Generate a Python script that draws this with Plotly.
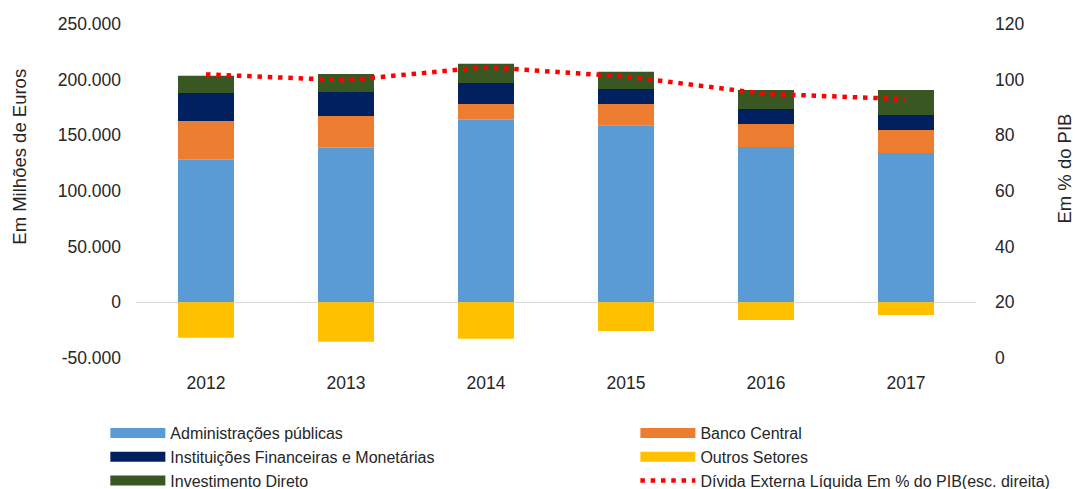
import plotly.graph_objects as go

# Data
anos = ["2012", "2013", "2014", "2015", "2016", "2017"]
admin_publicas = [128100, 138900, 164100, 159000, 139500, 134100]
banco_central = [34800, 28500, 14100, 19200, 20700, 20700]
inst_financeiras = [25200, 21600, 18900, 13500, 13500, 13500]
invest_direto = [15500, 16200, 17100, 15300, 17100, 22500]
outros_setores = [-31800, -35400, -32700, -25800, -15900, -11400]
divida_pib = [101.9, 99.8, 104.5, 101.1, 94.9, 93.0]

left_ticks = [-50000, 0, 50000, 100000, 150000, 200000, 250000]
left_labels = ["-50.000", "0", "50.000", "100.000", "150.000", "200.000", "250.000"]
right_ticks = [0, 20, 40, 60, 80, 100, 120]

font_family = "Liberation Sans"
txt = "#262626"

fig = go.Figure()

bars = [
    ("Administrações públicas", admin_publicas, "#5B9BD5", "legend"),
    ("Banco Central", banco_central, "#ED7D31", "legend2"),
    ("Instituições Financeiras e Monetárias", inst_financeiras, "#002060", "legend"),
    ("Outros Setores", outros_setores, "#FFC000", "legend2"),
    ("Investimento Direto", invest_direto, "#385723", "legend"),
]

for name, vals, color, leg in bars:
    fig.add_trace(go.Bar(
        x=anos, y=vals, name=name, marker_color=color,
        marker_line_width=0, showlegend=False, legendgroup=name,
    ))

fig.add_trace(go.Scatter(
    x=anos, y=divida_pib, yaxis="y2", mode="lines",
    line=dict(color="#FF0000", width=4.5, dash="4.5px,5.8px"),
    name="Dívida Externa Líquida Em % do PIB(esc. direita)",
    showlegend=False,
))

# legend-only entries drawn as wide swatches, like the original
for name, vals, color, leg in bars:
    fig.add_trace(go.Scatter(
        x=[None], y=[None], mode="lines", name=name, legend=leg,
        line=dict(color=color, width=10), legendgroup=name,
    ))
fig.add_trace(go.Scatter(
    x=[None], y=[None], mode="lines", legend="legend2",
    name="Dívida Externa Líquida Em % do PIB(esc. direita)",
    line=dict(color="#FF0000", width=4.5, dash="4.5px,5.8px"),
))

fig.update_layout(
    width=1075, height=489,
    margin=dict(l=136, r=99, t=24, b=131, autoexpand=False),
    paper_bgcolor="white", plot_bgcolor="white",
    font=dict(family=font_family, size=17.5, color=txt),
    barmode="relative", bargap=0.6,
    separators=",.",
    xaxis=dict(showgrid=False, showline=False, ticks="", ticklabelstandoff=12,
               tickfont=dict(size=17.5)),
    yaxis=dict(range=[-50000, 250000], tickvals=left_ticks, ticktext=left_labels,
               showgrid=False, showline=False, zeroline=True,
               zerolinecolor="#D9D9D9", zerolinewidth=1, ticks="",
               ticklabelstandoff=14, tickfont=dict(size=17.5)),
    yaxis2=dict(range=[0, 120], tickvals=right_ticks, overlaying="y", side="right",
                showgrid=False, showline=False, zeroline=False, ticks="",
                ticklabelstandoff=18, tickfont=dict(size=17.5)),
    legend=dict(x=-0.0365, xanchor="left", y=-0.174, yanchor="top",
                itemwidth=55, tracegroupgap=0, font=dict(size=16),
                bgcolor="rgba(0,0,0,0)"),
    legend2=dict(x=0.5945, xanchor="left", y=-0.174, yanchor="top",
                 itemwidth=55, tracegroupgap=0, font=dict(size=16),
                 bgcolor="rgba(0,0,0,0)"),
    annotations=[
        dict(text="Em Milhões de Euros", xref="paper", yref="paper",
             x=-0.138, y=0.603, xanchor="center", yanchor="middle",
             textangle=-90, showarrow=False,
             font=dict(size=18.5, color=txt)),
        dict(text="Em % do PIB", xref="paper", yref="paper",
             x=1.1055, y=0.566, xanchor="center", yanchor="middle",
             textangle=-90, showarrow=False,
             font=dict(size=18.5, color=txt)),
    ],
)

fig.write_html("out.html", config={"displayModeBar": False},
               post_script="document.body.style.margin='0';")
